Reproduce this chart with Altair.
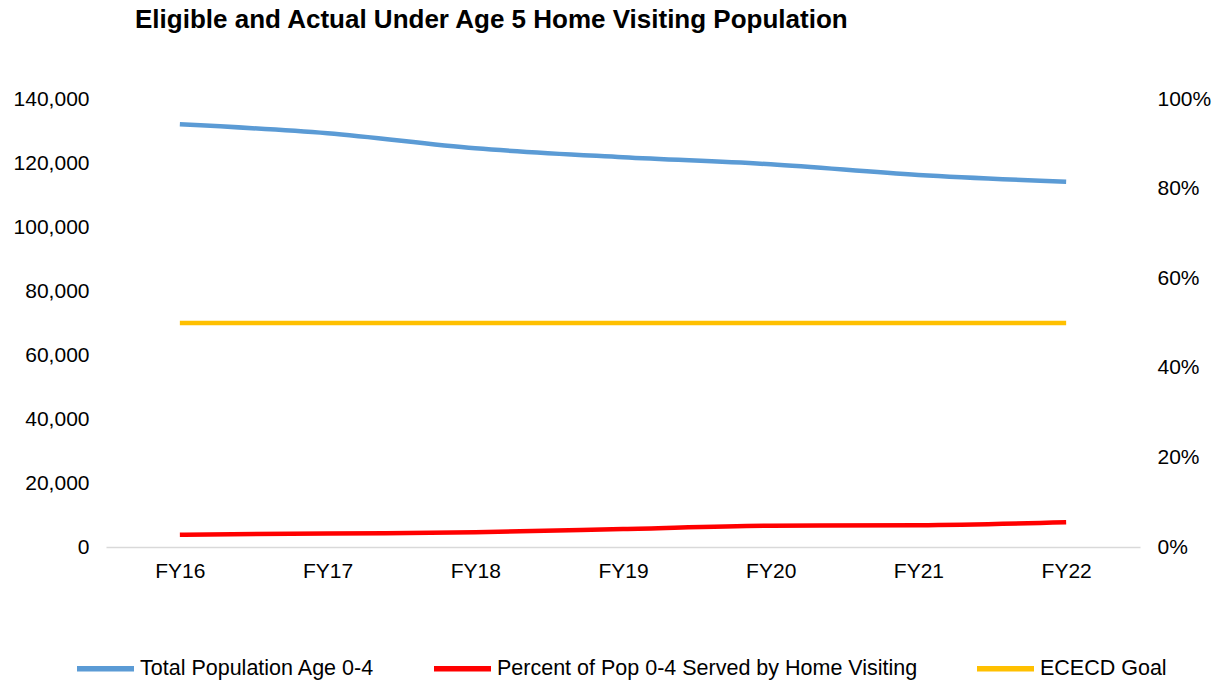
import altair as alt
import pandas as pd

years = ["FY16", "FY17", "FY18", "FY19", "FY20", "FY21", "FY22"]
total_pop = [132100, 129300, 124600, 121800, 119600, 116250, 114150]
pct_served = [0.0275, 0.030, 0.033, 0.040, 0.0475, 0.0485, 0.055]
goal = [0.50, 0.50, 0.50, 0.50, 0.50, 0.50, 0.50]

s_total = "Total Population Age 0-4"
s_pct = "Percent of Pop 0-4 Served by Home Visiting"
s_goal = "ECECD Goal"
series = [s_total, s_pct, s_goal]
colors = ["#5B9BD5", "#FF0000", "#FFC000"]

df_left = pd.DataFrame({"year": years, "value": total_pop, "series": s_total})
df_right = pd.concat([
    pd.DataFrame({"year": years, "value": pct_served, "series": s_pct}),
    pd.DataFrame({"year": years, "value": goal, "series": s_goal}),
])

FONT = "Liberation Sans"
FS = 21

x_enc = alt.X("year:N", sort=years, title=None,
              scale=alt.Scale(paddingInner=0, paddingOuter=0.5),
              axis=alt.Axis(labelAngle=0, ticks=False, domainColor="#D9D9D9",
                            domainWidth=1.5, labelPadding=13, grid=False,
                            labelFontSize=FS, labelFont=FONT, labelColor="#000000"))

color_enc = alt.Color("series:N", title=None,
                      scale=alt.Scale(domain=series, range=colors),
                      legend=alt.Legend(orient="none", direction="horizontal",
                                        legendX=-32, legendY=538,
                                        symbolType="stroke", symbolSize=3249,
                                        symbolStrokeWidth=5.5, labelOffset=3,
                                        columnPadding=48, labelFontSize=21.5,
                                        labelFont=FONT, labelColor="#000000",
                                        labelLimit=600, padding=0))

left = alt.Chart(df_left).mark_line(strokeWidth=4.5, interpolate="monotone").encode(
    x=x_enc,
    y=alt.Y("value:Q", title=None,
            scale=alt.Scale(domain=[0, 140000], nice=False),
            axis=alt.Axis(values=[0, 20000, 40000, 60000, 80000, 100000, 120000, 140000],
                          format=",.0f", ticks=False, domain=False, grid=False,
                          labelPadding=17, labelFontSize=FS, labelFont=FONT,
                          labelColor="#000000")),
    color=color_enc,
)

right = alt.Chart(df_right).mark_line(strokeWidth=4.5, interpolate="monotone").encode(
    x=x_enc,
    y=alt.Y("value:Q", title=None,
            scale=alt.Scale(domain=[0, 1], nice=False),
            axis=alt.Axis(orient="right", values=[0, 0.2, 0.4, 0.6, 0.8, 1.0],
                          format=".0%", ticks=False, domain=False, grid=False,
                          labelPadding=17, labelFontSize=FS, labelFont=FONT,
                          labelColor="#000000")),
    color=color_enc,
)

chart = alt.layer(left, right).resolve_scale(y="independent").properties(
    width=1034,
    height=448,
    autosize=alt.AutoSizeParams(type="none"),
    padding={"left": 98, "top": 91, "right": 79, "bottom": 135},
    title=alt.TitleParams("Eligible and Actual Under Age 5 Home Visiting Population",
                          anchor="start", frame="group", dx=29, offset=55,
                          fontSize=26, font=FONT, fontWeight="bold", color="#000000"),
).configure_view(stroke=None)

chart.save("out.html", embed_options={"renderer": "svg", "actions": False})
